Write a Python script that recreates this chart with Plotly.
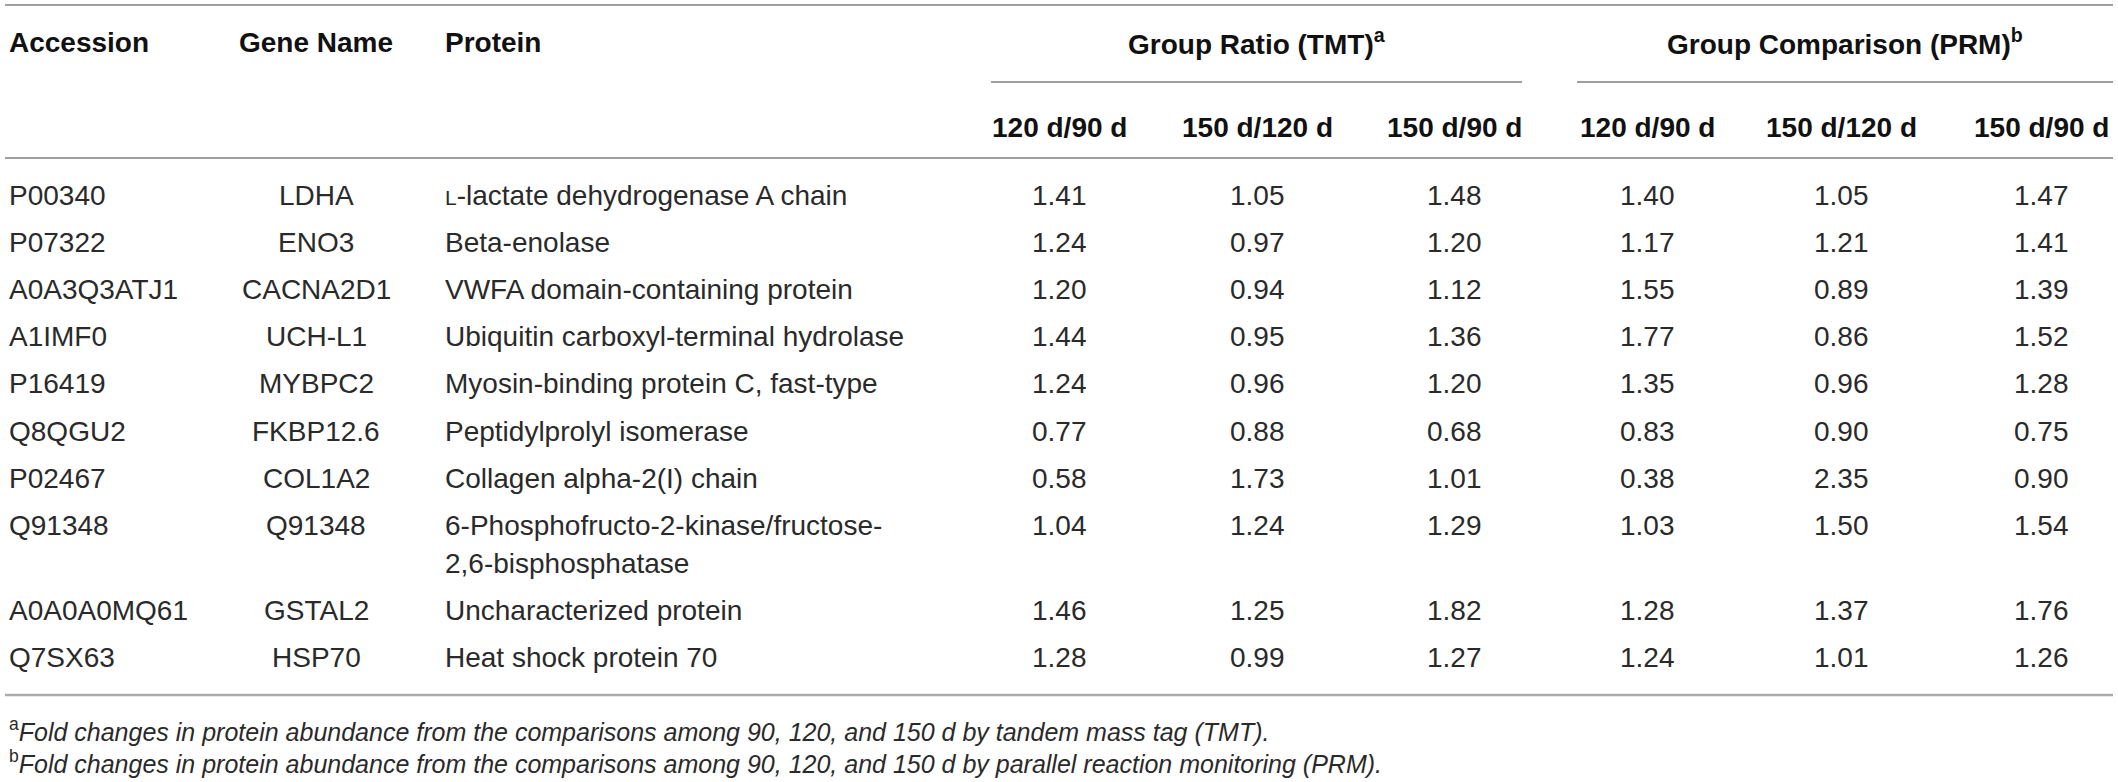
import plotly.graph_objects as go

# ---------------- data ----------------
accession = ["P00340", "P07322", "A0A3Q3ATJ1", "A1IMF0", "P16419", "Q8QGU2",
             "P02467", "Q91348", "A0A0A0MQ61", "Q7SX63"]
gene_name = ["LDHA", "ENO3", "CACNA2D1", "UCH-L1", "MYBPC2", "FKBP12.6",
             "COL1A2", "Q91348", "GSTAL2", "HSP70"]
protein = [
    ["<span style=\"font-size:21px\">L</span>-lactate dehydrogenase A chain"],
    ["Beta-enolase"],
    ["VWFA domain-containing protein"],
    ["Ubiquitin carboxyl-terminal hydrolase"],
    ["Myosin-binding protein C, fast-type"],
    ["Peptidylprolyl isomerase"],
    ["Collagen alpha-2(I) chain"],
    ["6-Phosphofructo-2-kinase/fructose-", "2,6-bisphosphatase"],
    ["Uncharacterized protein"],
    ["Heat shock protein 70"],
]
tmt_120_90 = ["1.41", "1.24", "1.20", "1.44", "1.24", "0.77", "0.58", "1.04", "1.46", "1.28"]
tmt_150_120 = ["1.05", "0.97", "0.94", "0.95", "0.96", "0.88", "1.73", "1.24", "1.25", "0.99"]
tmt_150_90 = ["1.48", "1.20", "1.12", "1.36", "1.20", "0.68", "1.01", "1.29", "1.82", "1.27"]
prm_120_90 = ["1.40", "1.17", "1.55", "1.77", "1.35", "0.83", "0.38", "1.03", "1.28", "1.24"]
prm_150_120 = ["1.05", "1.21", "0.89", "0.86", "0.96", "0.90", "2.35", "1.50", "1.37", "1.01"]
prm_150_90 = ["1.47", "1.41", "1.39", "1.52", "1.28", "0.75", "0.90", "1.54", "1.76", "1.26"]

col_headers = ["Accession", "Gene Name", "Protein"]
group_headers = ["Group Ratio (TMT)<sup>a</sup>", "Group Comparison (PRM)<sup>b</sup>"]
sub_headers = ["120 d/90 d", "150 d/120 d", "150 d/90 d"]
footnotes = [
    "<sup>a</sup><i>Fold changes in protein abundance from the comparisons among 90, 120, and 150 d by tandem mass tag (TMT).</i>",
    "<sup>b</sup><i>Fold changes in protein abundance from the comparisons among 90, 120, and 150 d by parallel reaction monitoring (PRM).</i>",
]

# ---------------- layout constants ----------------
W, H = 2118, 782
FONT = "Liberation Sans, Arial, sans-serif"
TXT = "#2a2a2a"
HEAD = "#111111"
FS = 28
FS_FOOT = 25
x_acc, x_gene, x_prot = 7, 316, 443
num_centers = [1059, 1257, 1454, 1647, 1841, 2041]
group_spans = [(991, 1522), (1577, 2113)]
x_left, x_right = 5, 2113
y_top_line, y_head, y_group_line, y_sub, y_head_line = 5, 42, 82, 127, 158
y_row0, row_step, line_step = 195, 47.2, 38
y_bottom_line = 695
y_foot = [730, 762]

fig = go.Figure()
ann = []


def add_text(x, y, text, anchor="left", bold=False, size=FS, color=TXT):
    ann.append(dict(x=x, y=y, xref="x", yref="y", text=text, showarrow=False,
                    xanchor=anchor, yanchor="middle",
                    font=dict(family=FONT, size=size, color=color,
                              weight="bold" if bold else "normal")))


# headers
add_text(x_acc, y_head, col_headers[0], "left", True, color=HEAD)
add_text(x_gene, y_head, col_headers[1], "center", True, color=HEAD)
add_text(x_prot, y_head, col_headers[2], "left", True, color=HEAD)
for (a, b), g in zip(group_spans, group_headers):
    add_text((a + b) / 2, y_head, g, "center", True, color=HEAD)
for k, cx in enumerate(num_centers):
    add_text(cx, y_sub, sub_headers[k % 3], "center", True, color=HEAD)

# body rows
num_cols = [tmt_120_90, tmt_150_120, tmt_150_90, prm_120_90, prm_150_120, prm_150_90]
y = y_row0
for i in range(len(accession)):
    add_text(x_acc, y, accession[i], "left")
    add_text(x_gene, y, gene_name[i], "center")
    for j, line in enumerate(protein[i]):
        add_text(x_prot, y + j * line_step, line, "left")
    for cx, col in zip(num_centers, num_cols):
        add_text(cx, y, col[i], "center")
    y += row_step + (len(protein[i]) - 1) * line_step

# footnotes
for yf, t in zip(y_foot, footnotes):
    add_text(x_acc, yf, t, "left", size=FS_FOOT)

# rules
shapes = []
for yy in (y_top_line, y_head_line):
    shapes.append(dict(type="line", xref="x", yref="y", x0=x_left, x1=x_right, y0=yy, y1=yy,
                       line=dict(color="#7f7f7f", width=1.5)))
for a, b in group_spans:
    shapes.append(dict(type="line", xref="x", yref="y", x0=a, x1=b, y0=y_group_line, y1=y_group_line,
                       line=dict(color="#7f7f7f", width=1.5)))
shapes.append(dict(type="line", xref="x", yref="y", x0=x_left, x1=x_right, y0=y_bottom_line,
                   y1=y_bottom_line, line=dict(color="#ababab", width=2.5)))

fig.update_layout(
    width=W, height=H,
    margin=dict(l=0, r=0, t=0, b=0),
    paper_bgcolor="white", plot_bgcolor="white",
    xaxis=dict(range=[0, W], visible=False, fixedrange=True),
    yaxis=dict(range=[H, 0], visible=False, fixedrange=True),
    annotations=ann, shapes=shapes,
    showlegend=False,
)

fig.write_html(
    "out.html",
    config={"displayModeBar": False},
    post_script="document.body.style.margin='0px';document.body.style.overflow='hidden';",
)
